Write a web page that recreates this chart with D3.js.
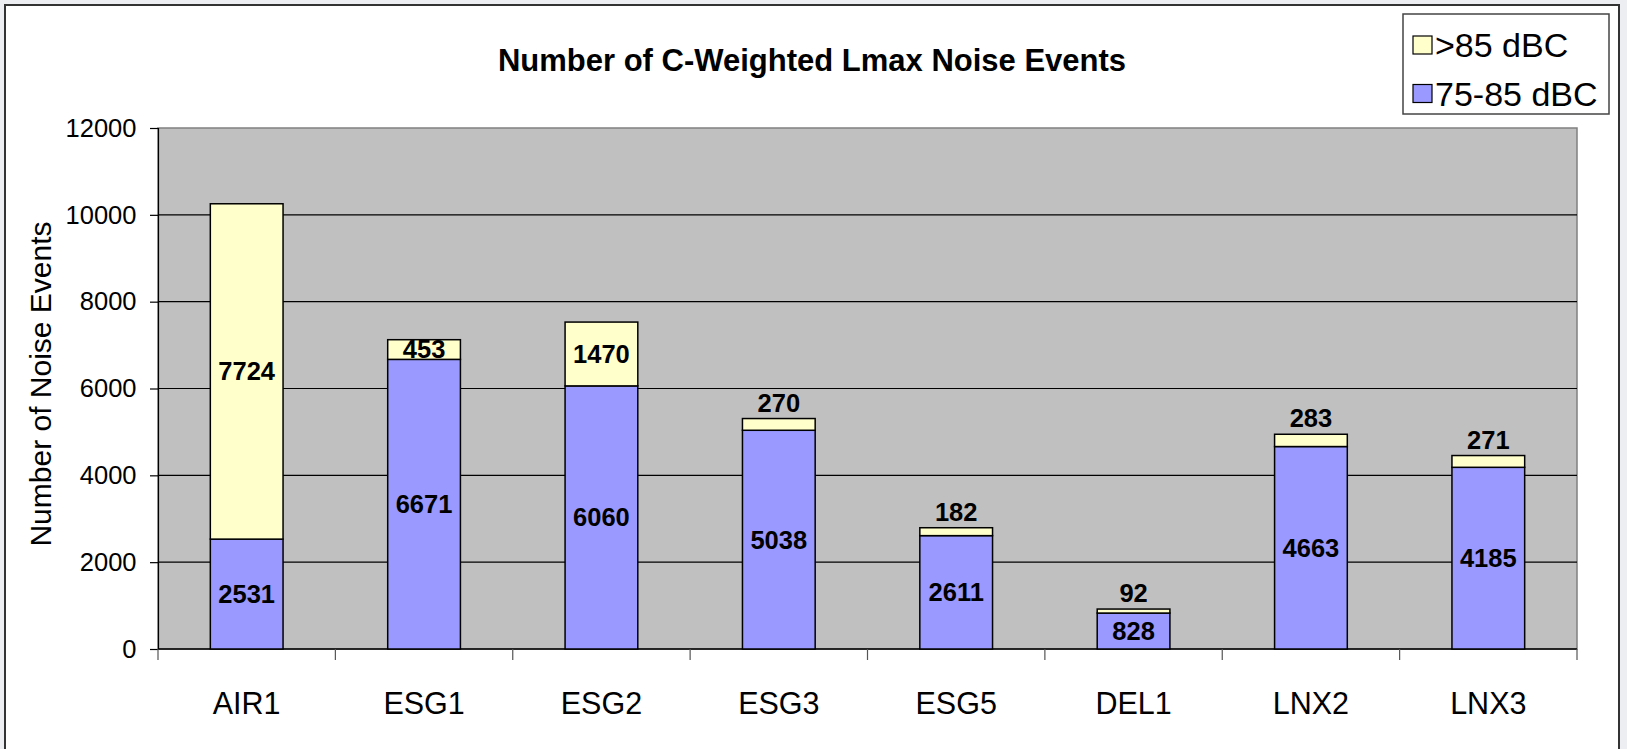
<!DOCTYPE html>
<html>
<head>
<meta charset="utf-8">
<script src="https://cdn.jsdelivr.net/npm/d3@7"></script>
<style>
  html, body { margin: 0; padding: 0; background: #eceef2; }
  svg { display: block; }
  text { font-family: "Liberation Sans", Arial, sans-serif; }
</style>
</head>
<body>
<svg id="chart" width="1627" height="749"></svg>
<script>
const categories = ["AIR1", "ESG1", "ESG2", "ESG3", "ESG5", "DEL1", "LNX2", "LNX3"];
const low = [2531, 6671, 6060, 5038, 2611, 828, 4663, 4185];   // 75-85 dBC
const high = [7724, 453, 1470, 270, 182, 92, 283, 271];         // >85 dBC
const seriesNames = [">85 dBC", "75-85 dBC"];
const yTicks = [0, 2000, 4000, 6000, 8000, 10000, 12000];
const title = "Number of C-Weighted Lmax Noise Events";
const yTitle = "Number of Noise Events";

const svg = d3.select("#chart");

// chart frame
svg.append("rect").attr("x", 5).attr("y", 5).attr("width", 1614).attr("height", 760)
  .attr("fill", "#ffffff").attr("stroke", "#333333").attr("stroke-width", 2);

const plot = { left: 158, right: 1577, top: 128, bottom: 649 };

const x = d3.scaleBand().domain(categories).range([plot.left, plot.right])
  .paddingInner(0.59).paddingOuter(0.295);
const step = x.step();
const y = d3.scaleLinear().domain([0, 12000]).range([plot.bottom, plot.top]);

// plot area
svg.append("rect").attr("x", plot.left).attr("y", plot.top)
  .attr("width", plot.right - plot.left).attr("height", plot.bottom - plot.top)
  .attr("fill", "#c0c0c0").attr("stroke", "#808080").attr("stroke-width", 1.5);

// gridlines
svg.append("g").selectAll("line").data(yTicks.filter(t => t > 0 && t < 12000)).join("line")
  .attr("x1", plot.left).attr("x2", plot.right)
  .attr("y1", d => y(d)).attr("y2", d => y(d))
  .attr("stroke", "#000").attr("stroke-width", 1.2);

// y axis
const yAxis = d3.axisLeft(y).tickValues(yTicks).tickSize(8).tickPadding(13.5).tickFormat(d3.format("d"));
const gy = svg.append("g").attr("transform", `translate(${plot.left},0)`).call(yAxis);
gy.select(".domain").attr("stroke", "#000").attr("stroke-width", 1.2);
gy.selectAll(".tick line").attr("stroke", "#000").attr("stroke-width", 1.2);
gy.selectAll(".tick text").attr("font-size", 25.5).attr("fill", "#000")
  .attr("font-family", "'Liberation Sans', Arial, sans-serif");

// x axis (ticks at category boundaries)
const gx = svg.append("g").attr("transform", `translate(0,${plot.bottom})`);
gx.append("line").attr("x1", plot.left).attr("x2", plot.right).attr("y1", 0).attr("y2", 0)
  .attr("stroke", "#000").attr("stroke-width", 1.5);
const bounds = d3.range(categories.length + 1).map(i => plot.left + i * step);
gx.selectAll("line.tk").data(bounds).join("line").attr("class", "tk")
  .attr("x1", d => d).attr("x2", d => d).attr("y1", 0).attr("y2", 11)
  .attr("stroke", "#555").attr("stroke-width", 1.2);
gx.selectAll("text").data(categories).join("text")
  .attr("x", d => x(d) + x.bandwidth() / 2).attr("y", 65)
  .attr("text-anchor", "middle").attr("font-size", 30.5).attr("fill", "#000")
  .text(d => d);

// bars
const data = categories.map((c, i) => ({ c, low: low[i], high: high[i] }));
const bars = svg.append("g");
bars.selectAll("rect.low").data(data).join("rect").attr("class", "low")
  .attr("x", d => x(d.c)).attr("width", x.bandwidth())
  .attr("y", d => y(d.low)).attr("height", d => y(0) - y(d.low))
  .attr("fill", "#9999ff").attr("stroke", "#000").attr("stroke-width", 1.5);
bars.selectAll("rect.high").data(data).join("rect").attr("class", "high")
  .attr("x", d => x(d.c)).attr("width", x.bandwidth())
  .attr("y", d => y(d.low + d.high)).attr("height", d => y(d.low) - y(d.low + d.high))
  .attr("fill", "#ffffcc").attr("stroke", "#000").attr("stroke-width", 1.5);

// labels
const lab = svg.append("g").attr("font-size", 25.5).attr("font-weight", "bold")
  .attr("text-anchor", "middle").attr("fill", "#000");
lab.selectAll("text.low").data(data).join("text").attr("class", "low")
  .attr("x", d => x(d.c) + x.bandwidth() / 2)
  .attr("y", d => (y(0) + y(d.low)) / 2).attr("dy", "0.35em")
  .text(d => d.low);
lab.selectAll("text.high").data(data).join("text").attr("class", "high")
  .attr("x", d => x(d.c) + x.bandwidth() / 2)
  .attr("y", d => d.high < 400 ? y(d.low + d.high) - 7 : (y(d.low) + y(d.low + d.high)) / 2)
  .attr("dy", d => d.high < 400 ? "0" : "0.35em")
  .text(d => d.high);

// title
svg.append("text").attr("x", 812).attr("y", 71).attr("text-anchor", "middle")
  .attr("font-size", 31).attr("font-weight", "bold").attr("fill", "#000").text(title);

// y title
svg.append("text").attr("transform", "translate(51,384) rotate(-90)")
  .attr("text-anchor", "middle").attr("font-size", 30).attr("fill", "#000").text(yTitle);

// legend
const lg = svg.append("g");
lg.append("rect").attr("x", 1403).attr("y", 14).attr("width", 206).attr("height", 100)
  .attr("fill", "#fff").attr("stroke", "#444").attr("stroke-width", 1.5);
const legendColors = ["#ffffcc", "#9999ff"];
seriesNames.forEach((name, i) => {
  const cy = 45 + i * 48.5;
  lg.append("rect").attr("x", 1413).attr("y", cy - 9).attr("width", 19).attr("height", 18)
    .attr("fill", legendColors[i]).attr("stroke", "#000").attr("stroke-width", 1.2);
  lg.append("text").attr("x", 1435).attr("y", cy + 12).attr("font-size", 34)
    .attr("fill", "#000").text(name);
});
</script>
</body>
</html>
